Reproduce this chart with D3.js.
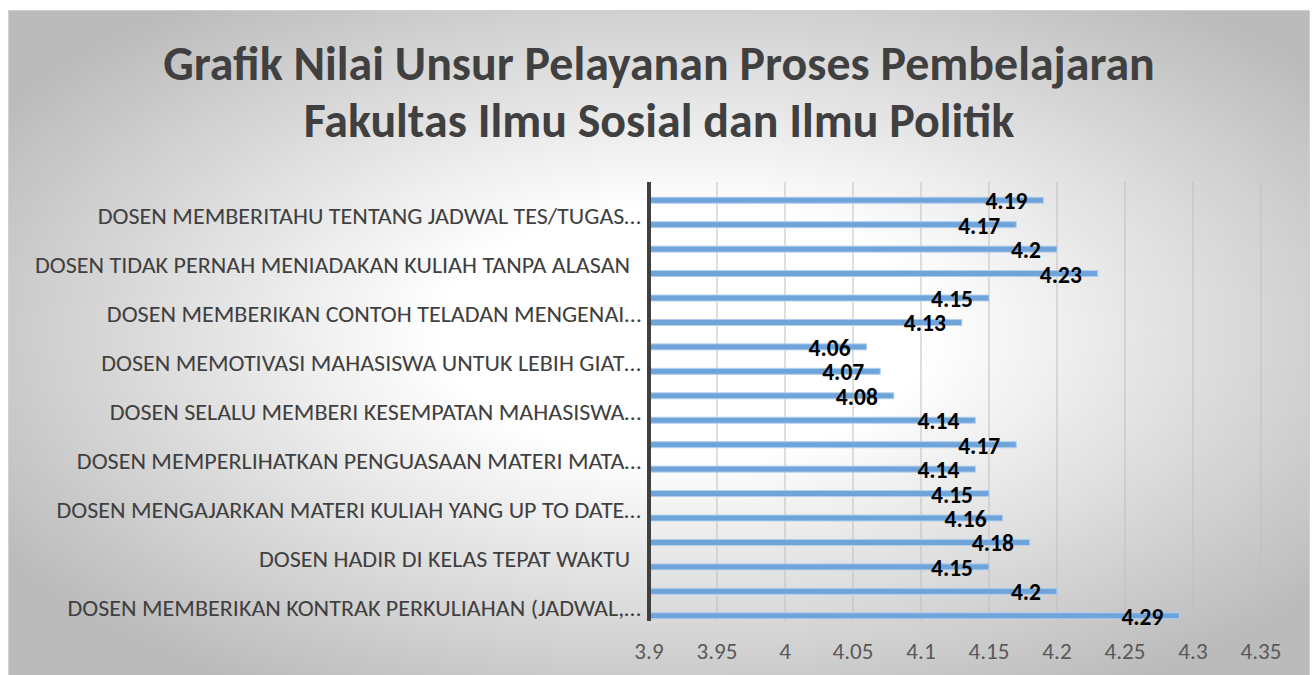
<!DOCTYPE html>
<html>
<head>
<meta charset="utf-8">
<script src="https://cdn.jsdelivr.net/npm/d3@7"></script>
<style>
  body { margin: 0; background: #fff; }
  svg { display: block; }
  text { font-family: Carlito, Calibri, Lato, "Open Sans", sans-serif; }
</style>
</head>
<body>
<svg id="chart" width="1314" height="675"></svg>
<script>
// data, top to bottom as shown
var categories = [
  "DOSEN MEMBERITAHU TENTANG JADWAL TES/TUGAS\u2026",
  "DOSEN TIDAK PERNAH MENIADAKAN KULIAH TANPA ALASAN  ",
  "DOSEN MEMBERIKAN CONTOH TELADAN MENGENAI\u2026",
  "DOSEN MEMOTIVASI MAHASISWA UNTUK LEBIH GIAT\u2026",
  "DOSEN SELALU MEMBERI KESEMPATAN MAHASISWA\u2026",
  "DOSEN MEMPERLIHATKAN PENGUASAAN MATERI MATA\u2026",
  "DOSEN MENGAJARKAN MATERI KULIAH YANG UP TO DATE\u2026",
  "DOSEN HADIR DI KELAS TEPAT WAKTU  ",
  "DOSEN MEMBERIKAN KONTRAK PERKULIAHAN (JADWAL,\u2026"
];
var seriesA = [4.19, 4.2, 4.15, 4.06, 4.08, 4.17, 4.15, 4.18, 4.2];
var seriesB = [4.17, 4.23, 4.13, 4.07, 4.14, 4.14, 4.16, 4.15, 4.29];
var xTicks = [3.9, 3.95, 4, 4.05, 4.1, 4.15, 4.2, 4.25, 4.3, 4.35];
var titleLines = [
  "Grafik Nilai Unsur Pelayanan Proses Pembelajaran",
  "Fakultas Ilmu Sosial dan Ilmu Politik"
];

var fontFamily = 'Carlito, Calibri, Lato, "Open Sans", sans-serif';

var svg = d3.select("#chart");

// background
var defs = svg.append("defs");
var grad = defs.append("radialGradient").attr("id", "bg")
  .attr("cx", 0.52).attr("cy", 0.48).attr("r", 0.62);
grad.append("stop").attr("offset", 0).attr("stop-color", "#ffffff");
grad.append("stop").attr("offset", 0.3).attr("stop-color", "#ffffff");
grad.append("stop").attr("offset", 1).attr("stop-color", "#bbbbbb");

svg.append("rect")
  .attr("x", 8.5).attr("y", 10.5).attr("width", 1301).attr("height", 670)
  .attr("fill", "url(#bg)")
  .attr("stroke", "#d0d0d0").attr("stroke-width", 1);

// cap height ratio of whatever font got picked
var ctx = document.createElement("canvas").getContext("2d");
function capRatio(weight) {
  ctx.font = weight + " 100px " + fontFamily;
  var m = ctx.measureText("H");
  return (m.actualBoundingBoxAscent || 64) / 100;
}

// pick size from cap height, then scale horizontally so the
// reference text reaches its measured width
function condense(sel, weight, capH, refNode, targetW, px, py) {
  var size = capH / capRatio(weight);
  sel.style("font-size", size + "px");
  var k = targetW / refNode.getComputedTextLength();
  sel.attr("x", 0).attr("y", 0)
    .attr("transform", (d, i) => "translate(" + px(d, i) + "," + py(d, i) + ") scale(" + k + ",1)");
}

// title
var title = svg.append("g").selectAll("text")
  .data(titleLines)
  .join("text")
  .attr("text-anchor", "middle")
  .attr("fill", "#404040")
  .attr("font-weight", "bold")
  .text(d => d);
condense(title, "bold", 31, title.nodes()[0], 992, d => 659, (d, i) => 80 + i * 57);

// scales
var x = d3.scaleLinear().domain([3.9, 4.35]).range([649, 1261]);
var y = d3.scaleBand().domain(categories).range([188, 628]);
var ySub = d3.scaleBand().domain([0, 1]).range([0, y.bandwidth()]);

var plotTop = 182, plotBottom = 621;

// gridlines
svg.append("g").selectAll("line.grid")
  .data(xTicks.slice(1))
  .join("line")
  .classed("grid", true)
  .attr("x1", d => x(d)).attr("x2", d => x(d))
  .attr("y1", plotTop).attr("y2", plotBottom)
  .attr("stroke", "#bfbfbf").attr("stroke-width", 1);

// tick labels
var ticks = svg.append("g").selectAll("text.tick")
  .data(xTicks)
  .join("text")
  .classed("tick", true)
  .attr("text-anchor", "middle")
  .attr("fill", "#595959")
  .text(d => d);
condense(ticks, "normal", 15, ticks.nodes()[9], 41, d => x(d), d => 659);

// bars
var bars = [];
categories.forEach((c, i) => {
  bars.push({cat: c, s: 0, v: seriesA[i]});
  bars.push({cat: c, s: 1, v: seriesB[i]});
});
var barH = 6;
svg.append("g").selectAll("rect.bar")
  .data(bars)
  .join("rect")
  .classed("bar", true)
  .attr("x", x(3.9))
  .attr("y", d => y(d.cat) + ySub(d.s) + ySub.bandwidth() / 2 - barH / 2)
  .attr("width", d => x(d.v) - x(3.9))
  .attr("height", barH)
  .attr("fill", "#6fa4da")
  .attr("stroke", "#b3cfee").attr("stroke-width", 1);

// axis line
svg.append("line")
  .attr("x1", x(3.9)).attr("x2", x(3.9))
  .attr("y1", plotTop).attr("y2", plotBottom)
  .attr("stroke", "#404040").attr("stroke-width", 4);

// category labels
var labels = svg.append("g").selectAll("text.cat")
  .data(categories)
  .join("text")
  .classed("cat", true)
  .attr("text-anchor", "end")
  .attr("fill", "#404040")
  .style("white-space", "pre")
  .text(d => d);
condense(labels, "normal", 14.3, labels.nodes()[8], 574, d => 641, d => y(d) + y.bandwidth() / 2 + 12);

// value labels
var vals = svg.append("g").selectAll("text.val")
  .data(bars)
  .join("text")
  .classed("val", true)
  .attr("text-anchor", "end")
  .attr("fill", "#000")
  .attr("font-weight", "bold")
  .text(d => d.v);
condense(vals, "bold", 16, vals.nodes()[17], 42, d => x(d.v) - 16,
  d => y(d.cat) + ySub(d.s) + ySub.bandwidth() / 2 + 9);
</script>
</body>
</html>
